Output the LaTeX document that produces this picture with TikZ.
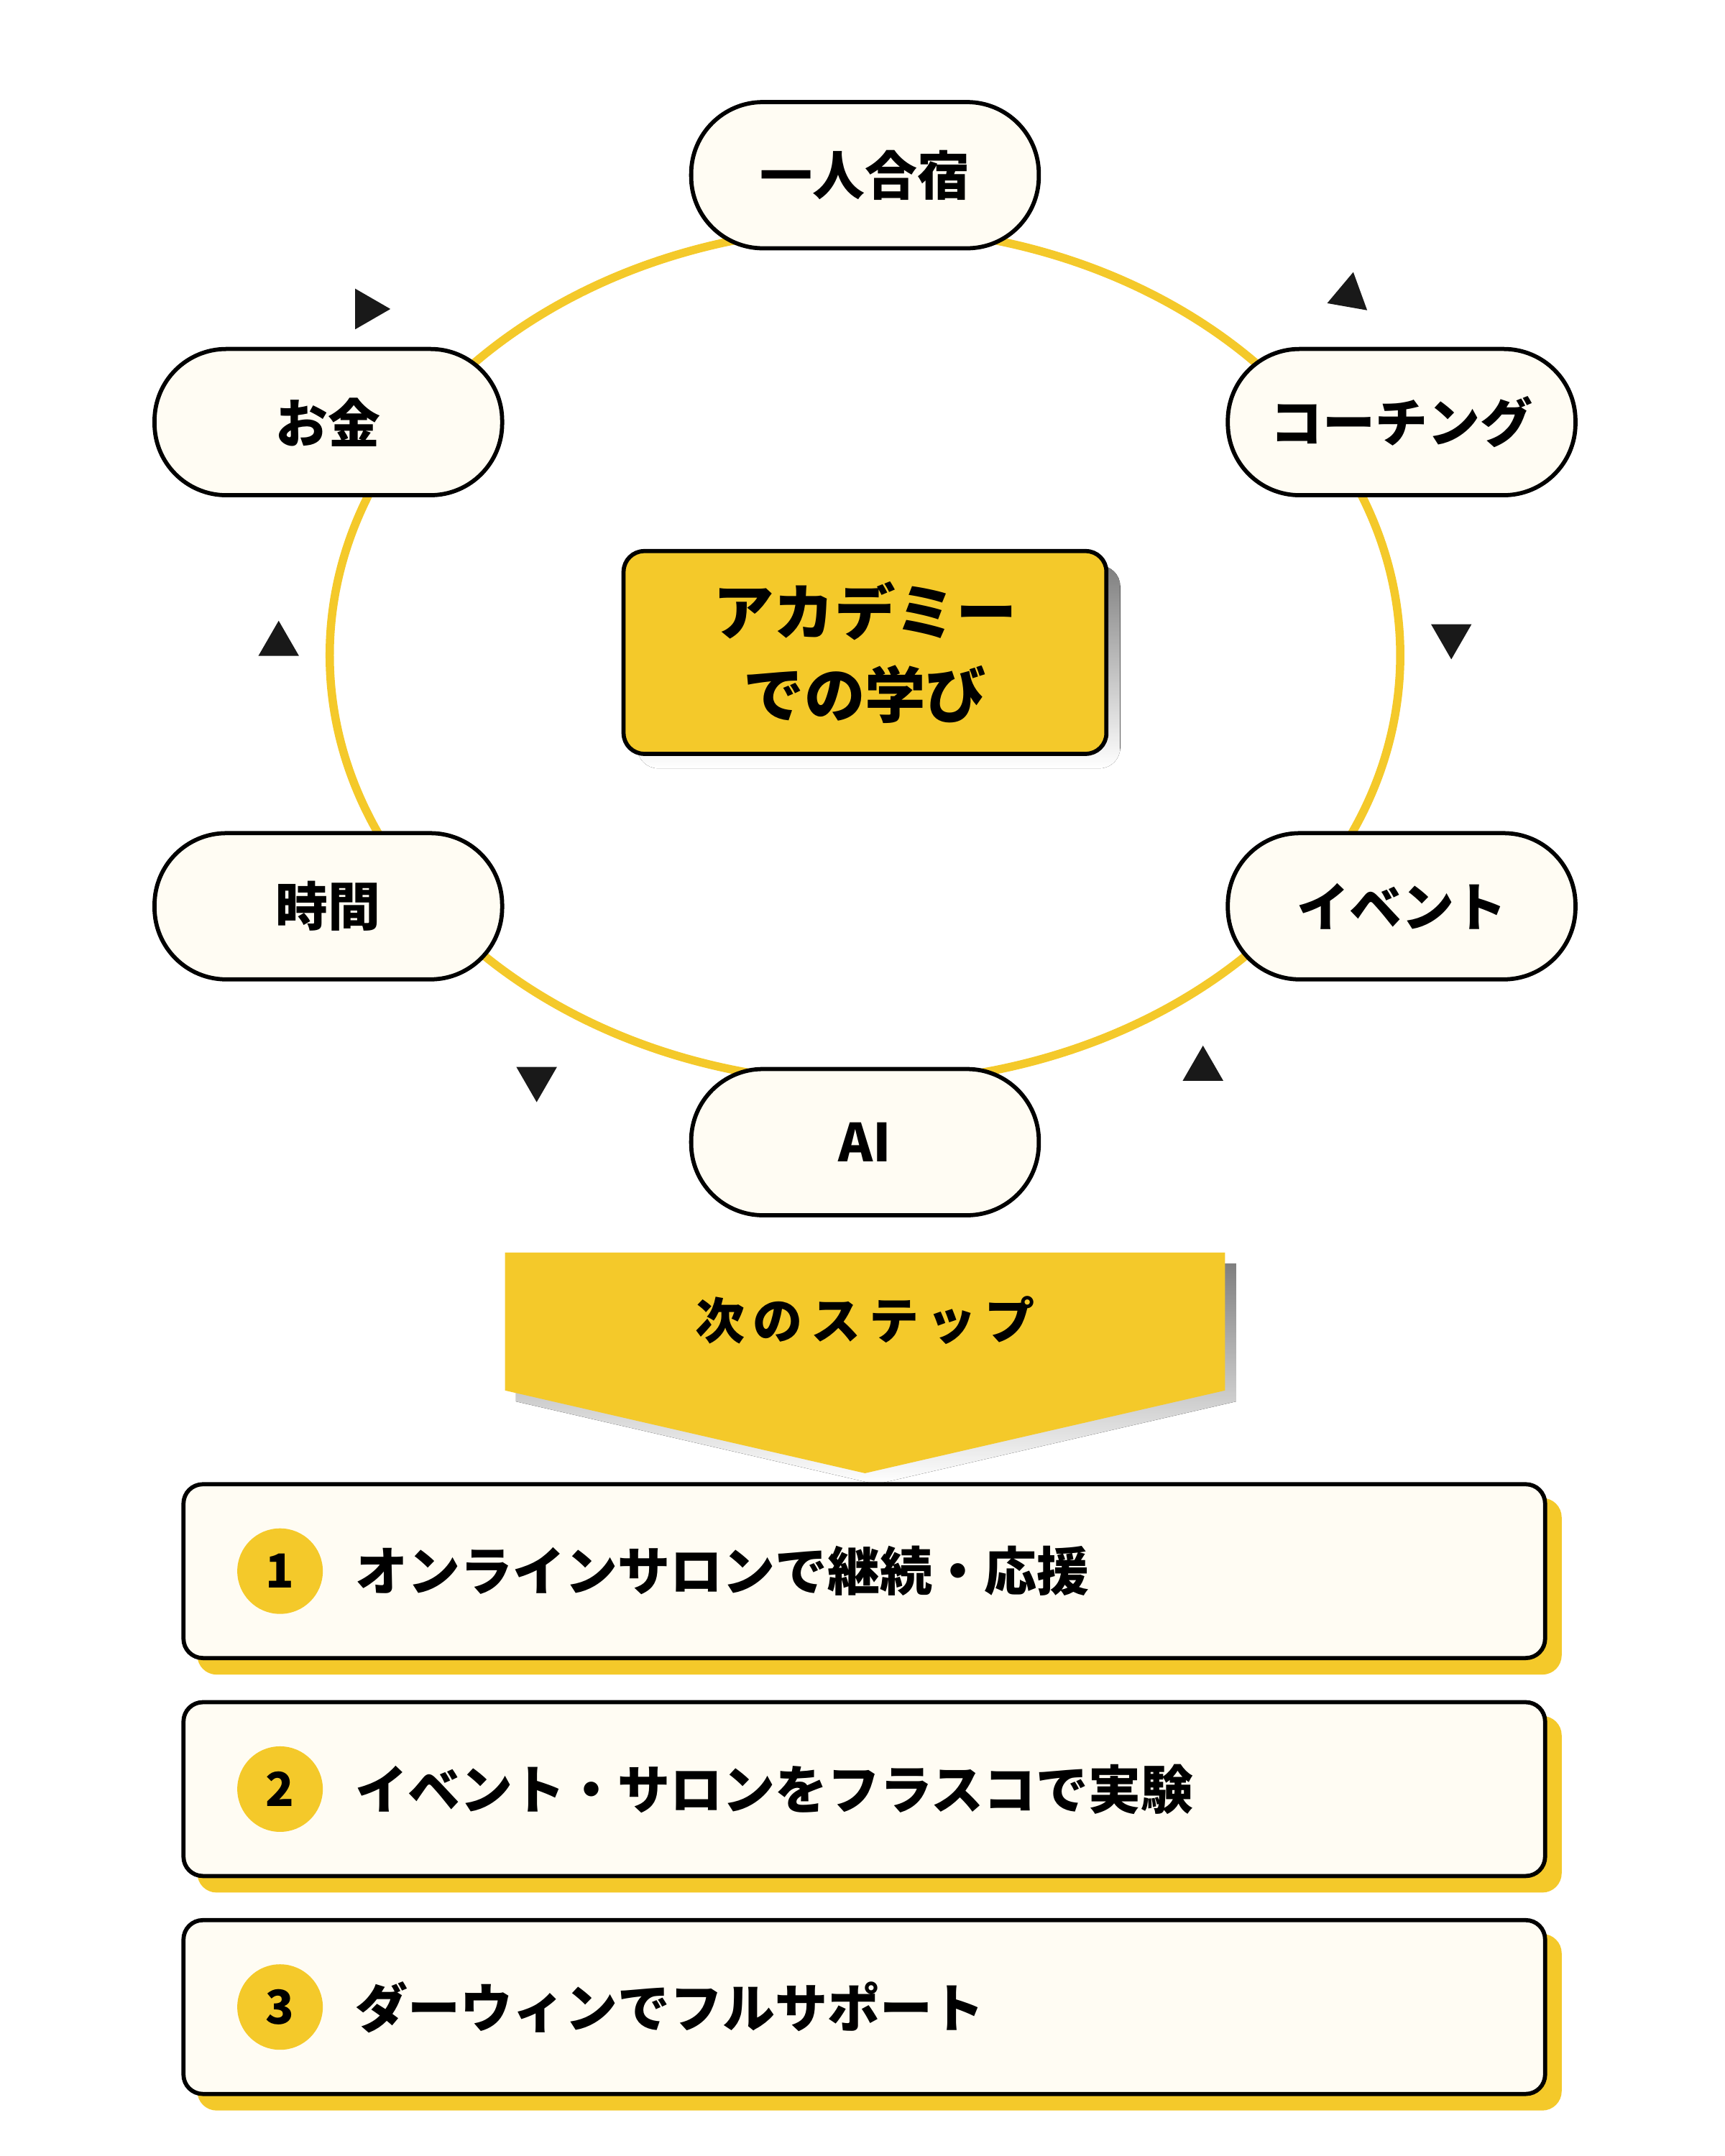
\documentclass[tikz,border=0pt]{standalone}
\usepackage{fontspec}
\setmainfont{Noto Sans CJK JP}
\usetikzlibrary{positioning,shapes.geometric}
\definecolor{gold}{HTML}{F4C92A}
\definecolor{cream}{HTML}{FFFCF3}
\definecolor{shade}{HTML}{E4E4E4}
\begin{document}
\begin{tikzpicture}
		[x=1pt,y=-1pt,
		pill/.style={draw=black,line width=3pt,fill=cream,rounded corners=52pt,minimum width=252pt,minimum height=106pt,font=\bfseries\fontsize{38}{44}\selectfont},
		tri/.style={regular polygon,regular polygon sides=3,fill=black!90,inner sep=0pt,minimum size=34pt},
		stepbox/.style={draw=black,line width=3pt,fill=cream,rounded corners=14pt,minimum width=987pt,minimum height=126pt},
		num/.style={circle,fill=gold,minimum size=62pt,inner sep=0pt,font=\bfseries\fontsize{34}{38}\selectfont},
		]
		\useasboundingbox (0,0) rectangle (1250,1563);
		\fill[white] (0,0) rectangle (1250,1563);
		% cycle
		\draw[gold,line width=6pt] (627,475) ellipse [x radius=388,y radius=310];
		\node[pill] (camp) at (627,127) {一人合宿};
		\node[pill] (coach) at (1016,306) {コーチング};
		\node[pill] (event) at (1016,657) {イベント};
		\node[pill] (ai) at (627,828) {AI};
		\node[pill] (time) at (238,657) {時間};
		\node[pill] (money) at (238,306) {お金};
		\node[tri,rotate=150] (t-1) at (266,224) {};
		\node[tri,rotate=-10] (t-2) at (978,214) {};
		\node[tri,rotate=180] (t-3) at (1052,461) {};
		\node[tri] (t-4) at (872,775) {};
		\node[tri,rotate=180] (t-5) at (389,782) {};
		\node[tri] (t-6) at (202,467) {};
		% center
		\fill[shade,rounded corners=15pt] (462,410) rectangle (812,557);
		\node[draw=black,line width=3pt,fill=gold,rounded corners=15pt,minimum width=350pt,minimum height=147pt,align=center,font=\bfseries\fontsize{44}{60}\selectfont] (core) at (627,473) {アカデミー\\での学び};
		% banner
		\fill[shade] (374,916) -- (896,916) -- (896,1016) -- (635,1076) -- (374,1016) -- cycle;
		\fill[gold] (366,908) -- (888,908) -- (888,1008) -- (627,1068) -- (366,1008) -- cycle;
		\node[font=\bfseries\fontsize{36}{40}\selectfont] (next) at (627,957) {次\,の\,ス\,テ\,ッ\,プ};
		% steps
		\foreach \i/\y/\t in {1/1139/オンラインサロンで継続・応援,2/1297/イベント・サロンをフラスコで実験,3/1455/ダーウィンでフルサポート}
		{
			\fill[gold,rounded corners=14pt] (143,\y-53) rectangle (1132,\y+75);
			\node[stepbox] (s-\i) at (626.5,\y) {};
			\node[num] (n-\i) at (203,\y) {\i};
			\node[right=20pt of n-\i,font=\bfseries\fontsize{38}{44}\selectfont] (l-\i) {\t};
		}
\end{tikzpicture}
\end{document}
